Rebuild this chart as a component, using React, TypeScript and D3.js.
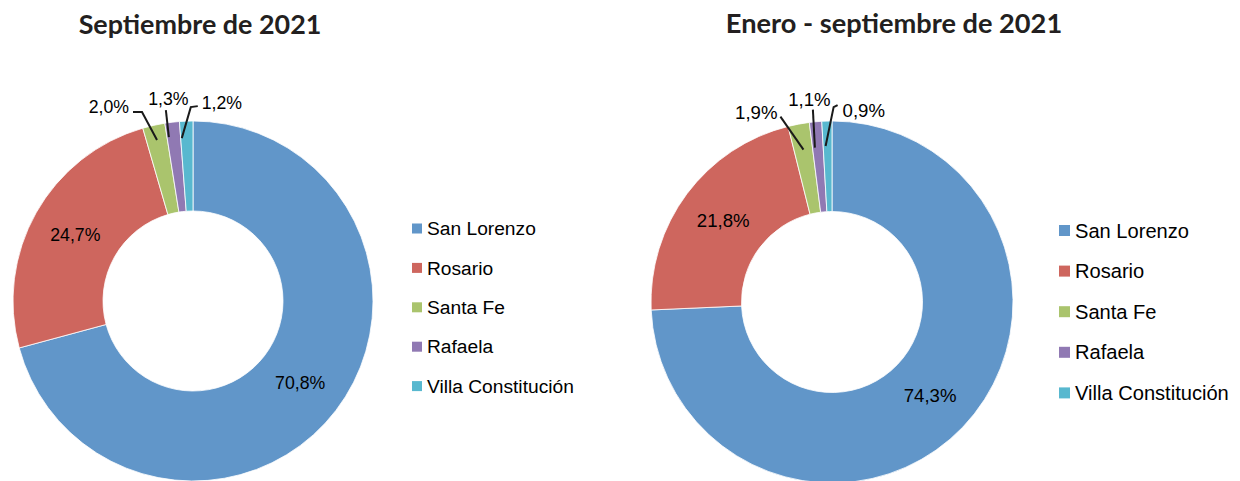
import React from 'react';
import * as d3 from 'd3';

const categories = ['San Lorenzo', 'Rosario', 'Santa Fe', 'Rafaela', 'Villa Constitución'];
const colors = ['#6196c9', '#ce665e', '#aac46d', '#9079b3', '#58b8cf'];
const septValues = [70.8, 24.7, 2.0, 1.3, 1.2];
const ytdValues = [74.3, 21.8, 1.9, 1.1, 0.9];
const titles = ['Septiembre de 2021', 'Enero - septiembre de 2021'];

type Outer = { pts: number[][]; tx: number; ty: number; anchor: string };

const charts = [
  {
    title: titles[0], values: septValues,
    cx: 193, cy: 301, R: 180, r: 90, endR: 165,
    titleX: 200, titleY: 34, titleSize: 26.9,
    labelSize: 17.7,
    legX: 412, legY: 223.5, legStep: 39.4, legBox: 10, legSize: 19.2,
    outer: {
      2: { pts: [[0, 0], [-15, -28], [-24, -28]], tx: -28, ty: -27, anchor: 'end' },
      3: { pts: [[-5, 0], [-8, -27]], tx: -5.5, ty: -32, anchor: 'middle' },
      4: { pts: [[-5, 2], [4, -29], [11, -30]], tx: 15, ty: -27, anchor: 'start' },
    } as Record<number, Outer>,
  },
  {
    title: titles[1], values: ytdValues,
    cx: 832, cy: 302, R: 181, r: 90.5, endR: 155,
    titleX: 894, titleY: 33, titleSize: 27.2,
    labelSize: 18.6,
    legX: 1059, legY: 225, legStep: 40.6, legBox: 11, legSize: 20.1,
    outer: {
      2: { pts: [[0, 0], [-23, -33]], tx: -26, ty: -31, anchor: 'end' },
      3: { pts: [[-3, 0], [-5, -38]], tx: -8.5, ty: -42, anchor: 'middle' },
      4: { pts: [[-2, -1], [6, -40], [10, -42]], tx: 15, ty: -30, anchor: 'start' },
    } as Record<number, Outer>,
  },
];

const fmt = (v: number) => v.toFixed(1).replace('.', ',') + '%';
const SANS = "Arial, 'Liberation Sans', sans-serif";

function Donut({ c }: { c: typeof charts[0] }) {
  const pie = d3.pie<number>().sort(null).value((d) => d);
  const arcs = pie(c.values);
  const arc = d3.arc<d3.PieArcDatum<number>>().innerRadius(c.r).outerRadius(c.R);
  const line = d3.line();
  return (
    <g>
      <text x={c.titleX} y={c.titleY} textAnchor="middle" fontFamily="Lato, 'Open Sans', sans-serif"
        fontWeight={700} fontSize={c.titleSize} fill="#231f20">{c.title}</text>
      <g transform={`translate(${c.cx},${c.cy})`}>
        {arcs.map((a, i) => (
          <path key={i} d={arc(a) || ''} fill={colors[i]} stroke="#ffffff" strokeWidth={0.8} />
        ))}
        {arcs.map((a, i) => {
          if (c.outer[i]) return null;
          const [x, y] = arc.centroid(a);
          return (
            <text key={'l' + i} x={x} y={y} dy="0.35em" textAnchor="middle"
              fontFamily={SANS} fontSize={c.labelSize} fill="#000">{fmt(a.data)}</text>
          );
        })}
        {arcs.map((a, i) => {
          const o = c.outer[i];
          if (!o) return null;
          const mid = (a.startAngle + a.endAngle) / 2;
          const ex = c.endR * Math.sin(mid);
          const ey = -c.endR * Math.cos(mid);
          const pts = o.pts.map((p) => [ex + p[0], ey + p[1]] as [number, number]);
          return (
            <g key={'o' + i}>
              <path d={line(pts) || ''} fill="none" stroke="#1a1a1a" strokeWidth={2} />
              <text x={ex + o.tx} y={ey + o.ty} textAnchor={o.anchor}
                fontFamily={SANS} fontSize={c.labelSize} fill="#000">{fmt(a.data)}</text>
            </g>
          );
        })}
      </g>
      <g>
        {categories.map((cat, i) => (
          <g key={cat} transform={`translate(${c.legX},${c.legY + i * c.legStep})`}>
            <rect x={0} y={0} width={c.legBox} height={c.legBox} fill={colors[i]} />
            <text x={c.legBox + 5} y={c.legBox / 2} dy="0.35em" fontFamily={SANS}
              fontSize={c.legSize} fill="#000">{cat}</text>
          </g>
        ))}
      </g>
    </g>
  );
}

export default function App() {
  return (
    <svg width={1240} height={481} style={{ position: 'absolute', left: 0, top: 0, background: '#fff' }}>
      <rect width={1240} height={481} fill="#fff" />
      {charts.map((c, i) => <Donut key={i} c={c} />)}
    </svg>
  );
}
